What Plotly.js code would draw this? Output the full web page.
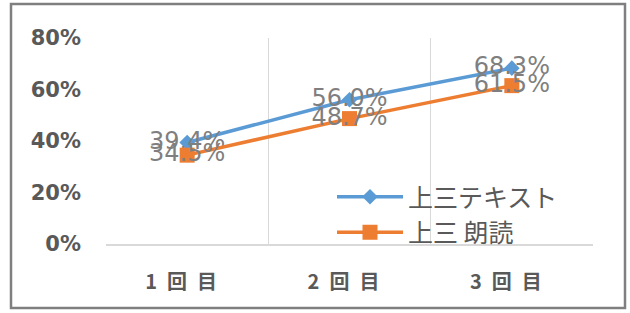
<!DOCTYPE html>
<html>
<head>
<meta charset="utf-8">
<script src="https://cdn.plot.ly/plotly-3.0.1.min.js"></script>
<style>html,body{margin:0;padding:0;background:#fff;}#chart{width:630px;height:313px;}</style>
</head>
<body>
<div id="chart"></div>
<script>
const categories = ["1\u2002回\u2002目", "2\u2002回\u2002目", "3\u2002回\u2002目"];
const seriesNames = ["上三テキスト", "上三 朗読"];
const textValues = [39.4, 56.0, 68.3];
const readingValues = [34.5, 48.7, 61.5];
const yTickValues = [0, 20, 40, 60, 80];
const yTickLabels = ["0%", "20%", "40%", "60%", "80%"];

const W = 630, H = 313;
const mL = 106, mR = 37, mT = 38, mB = 69;
const pw = W - mL - mR, ph = H - mT - mB;
const px = x => (x - mL) / pw;
const py = y => (H - mB - y) / ph;

const labelFont = {family: "DejaVu Sans", size: 24, color: "#7f7f7f"};

const traces = [
  {
    x: categories, y: textValues, name: seriesNames[0], type: "scatter",
    mode: "lines+markers+text",
    line: {color: "#5B9BD5", width: 3.5},
    marker: {symbol: "diamond", size: 12, color: "#5B9BD5"},
    texttemplate: "%{y:.1f}%", textposition: "middle center", textfont: labelFont,
    cliponaxis: false
  },
  {
    x: categories, y: readingValues, name: seriesNames[1], type: "scatter",
    mode: "lines+markers+text",
    line: {color: "#ED7D31", width: 3.5},
    marker: {symbol: "square", size: 15, color: "#ED7D31"},
    texttemplate: "%{y:.1f}%", textposition: "middle center", textfont: labelFont,
    cliponaxis: false
  }
];

const layout = {
  width: W, height: H,
  margin: {l: mL, r: mR, t: mT, b: mB, pad: 0},
  paper_bgcolor: "#ffffff", plot_bgcolor: "#ffffff",
  showlegend: true,
  legend: {
    x: px(332), y: py(174), xanchor: "left", yanchor: "top",
    bgcolor: "rgba(0,0,0,0)", borderwidth: 0,
    font: {family: "Noto Sans CJK JP", size: 25, color: "#595959"},
    itemwidth: 66, tracegroupgap: 0
  },
  xaxis: {
    type: "category", range: [-0.5, 2.5],
    tickson: "boundaries", showgrid: true, gridcolor: "#d9d9d9", gridwidth: 1.5,
    showline: true, linecolor: "#d9d9d9", linewidth: 1.5,
    ticks: "", zeroline: false, fixedrange: true,
    tickfont: {family: "Noto Sans CJK JP", size: 20, color: "#595959", weight: "bold"},
    ticklabelstandoff: 19, ticklabelshift: -6
  },
  yaxis: {
    range: [0, 80], tickvals: yTickValues, ticktext: yTickLabels,
    showgrid: false, zeroline: false, showline: false, ticks: "",
    tickfont: {family: "DejaVu Sans", size: 21, color: "#595959", weight: "bold"},
    ticklabelstandoff: 24, fixedrange: true
  },
  shapes: [
    {type: "rect", xref: "paper", yref: "paper",
     x0: px(11), x1: px(625), y0: py(308), y1: py(4),
     line: {color: "#7f7f7f", width: 2.5}, fillcolor: "rgba(0,0,0,0)", layer: "below"}
  ]
};

Plotly.newPlot("chart", traces, layout, {displayModeBar: false, staticPlot: true});
</script>
</body>
</html>
